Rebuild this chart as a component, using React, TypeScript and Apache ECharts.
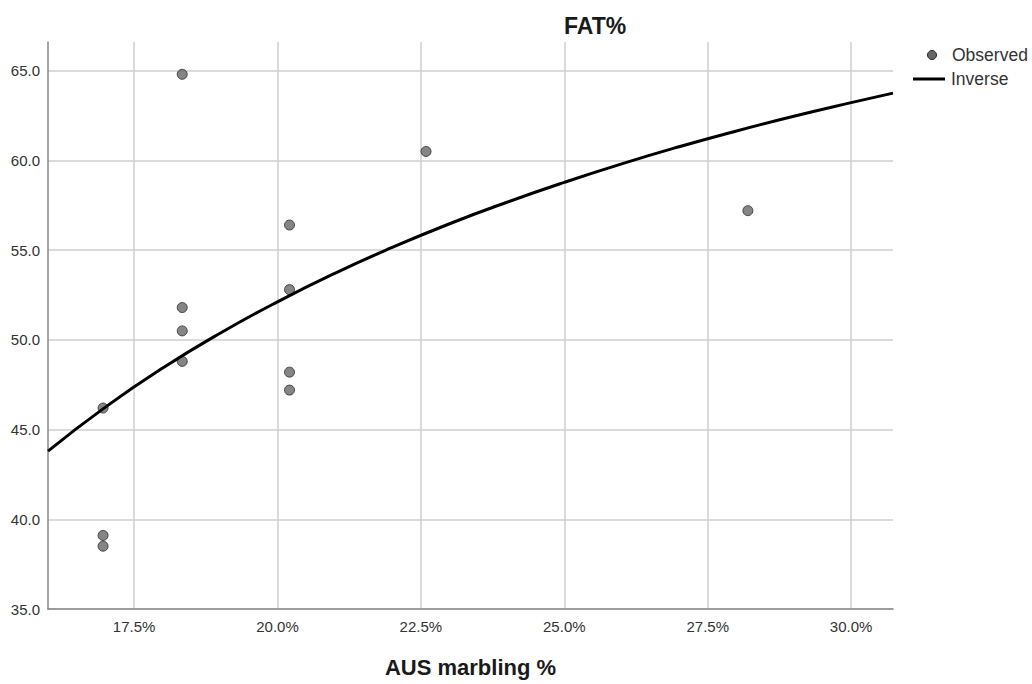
import React, { useEffect, useRef } from "react";
import * as echarts from "echarts";

const title = "FAT%";
const xAxisName = "AUS marbling %";
const xTicks = [17.5, 20.0, 22.5, 25.0, 27.5, 30.0];
const yTicks = [35, 40, 45, 50, 55, 60, 65];
const observedX = [16.96, 16.96, 16.96, 18.34, 18.34, 18.34, 18.34, 20.21, 20.21, 20.21, 20.21, 22.59, 28.2];
const observedY = [46.2, 39.1, 38.5, 64.8, 51.8, 50.5, 48.8, 56.4, 52.8, 48.2, 47.2, 60.5, 57.2];
const inverseX = [16.0, 17, 18, 19, 20, 21, 22, 23, 24, 25, 26, 27, 28, 29, 30, 30.73];
const inverseY = [43.8, 46.25, 48.43, 50.37, 52.12, 53.71, 55.15, 56.47, 57.67, 58.78, 59.81, 60.76, 61.64, 62.46, 63.22, 63.75];
const legendNames = ["Observed", "Inverse"];

export default function App() {
  const ref = useRef<HTMLDivElement>(null);
  useEffect(() => {
    const chart = echarts.init(ref.current!, null, { renderer: "svg" });
    const font = "'Liberation Sans', Arial, sans-serif";
    chart.setOption({
      animation: false,
      backgroundColor: "#fff",
      title: {
        text: title,
        left: 559,
        top: 9,
        textStyle: { fontFamily: font, fontSize: 23, fontWeight: "bold", color: "#1a1a1a" },
      },
      grid: { left: 48, right: 139, top: 42, bottom: 75, containLabel: false },
      xAxis: {
        type: "value",
        min: 16.0,
        max: 30.73,
        name: xAxisName,
        nameLocation: "middle",
        nameGap: 47,
        nameTextStyle: { fontFamily: font, fontSize: 22, fontWeight: "bold", color: "#1a1a1a" },
        axisLine: { show: true, lineStyle: { color: "#888", width: 1.5 } },
        axisTick: { show: false, customValues: xTicks },
        axisLabel: {
          customValues: xTicks,
          formatter: (v: number) => v.toFixed(1) + "%",
          fontFamily: font,
          fontSize: 15,
          color: "#333",
          margin: 10,
        },
        splitLine: { show: true, lineStyle: { color: "#cfcfcf", width: 1.5 } },
      },
      yAxis: {
        type: "value",
        min: 35,
        max: 66.6,
        axisLine: { show: true, lineStyle: { color: "#888", width: 1.5 } },
        axisTick: { show: false, customValues: yTicks },
        axisLabel: {
          customValues: yTicks,
          formatter: (v: number) => v.toFixed(1),
          fontFamily: font,
          fontSize: 15,
          color: "#333",
          margin: 8,
        },
        splitLine: { show: true, lineStyle: { color: "#cfcfcf", width: 1.5 } },
      },
      series: [
        {
          name: legendNames[0],
          type: "scatter",
          symbol: "circle",
          symbolSize: 10,
          itemStyle: { color: "#666", borderColor: "#2a2a2a", borderWidth: 1 },
          data: observedX.map((x, i) => [x, observedY[i]]),
          z: 3,
        },
        {
          name: legendNames[1],
          type: "line",
          smooth: true,
          showSymbol: false,
          lineStyle: { color: "#000", width: 3 },
          data: inverseX.map((x, i) => [x, inverseY[i]]),
          z: 4,
        },
      ],
      graphic: [
        { type: "circle", shape: { cx: 932, cy: 55, r: 4.5 }, style: { fill: "#666", stroke: "#2a2a2a", lineWidth: 1 } },
        { type: "text", x: 952, y: 55, style: { text: legendNames[0], fontFamily: font, fontSize: 17.5, fill: "#333", verticalAlign: "middle" } },
        { type: "line", shape: { x1: 913, y1: 79, x2: 945, y2: 79 }, style: { stroke: "#000", lineWidth: 3 } },
        { type: "text", x: 951, y: 79, style: { text: legendNames[1], fontFamily: font, fontSize: 17.5, fill: "#333", verticalAlign: "middle" } },
      ],
    });
    return () => chart.dispose();
  }, []);
  return <div ref={ref} style={{ width: 1032, height: 684, position: "absolute", left: 0, top: 0 }} />;
}
